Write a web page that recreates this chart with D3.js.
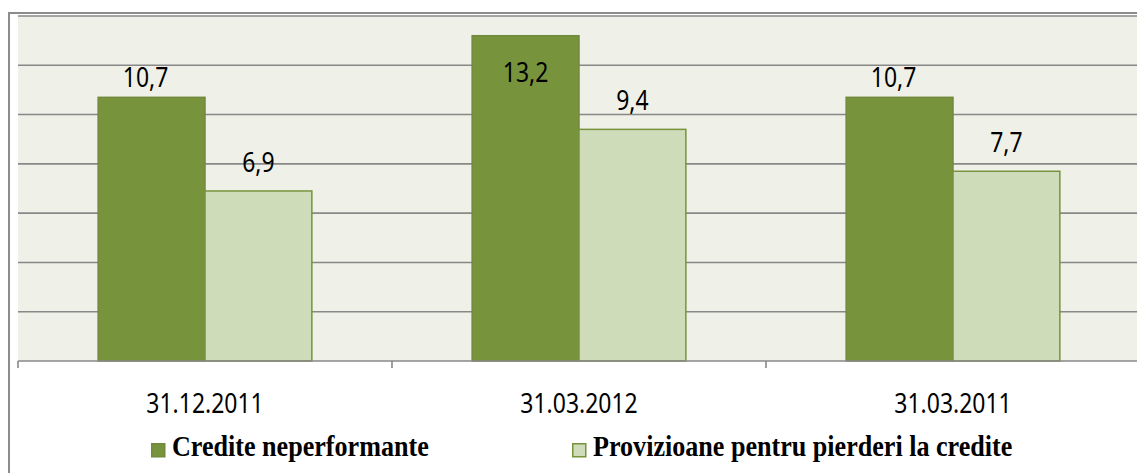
<!DOCTYPE html>
<html>
<head>
<meta charset="utf-8">
<script src="https://cdn.jsdelivr.net/npm/d3@7"></script>
<style>
  body { margin: 0; background: #fff; }
</style>
</head>
<body>
<svg id="chart" width="1137" height="473"></svg>
<script>
const categories = ["31.12.2011", "31.03.2012", "31.03.2011"];
const seriesNames = ["Credite neperformante", "Provizioane pentru pierderi la credite"];
const neperformante = [10.7, 13.2, 10.7];
const provizioane = [6.9, 9.4, 7.7];
const yTicks = [2, 4, 6, 8, 10, 12, 14];

const colors = ["#77933c", "#cfdcb9"];
const strokes = ["#718a3c", "#77933c"];

const rows = categories.map((c, i) => ({
  cat: c,
  values: [
    { s: seriesNames[0], v: neperformante[i], k: 0 },
    { s: seriesNames[1], v: provizioane[i], k: 1 }
  ]
}));

const svg = d3.select("#chart");
const plot = { left: 18, top: 16, right: 1140, bottom: 361 };

// outer frame
svg.append("rect")
  .attr("x", 9).attr("y", 13)
  .attr("width", 1150).attr("height", 480)
  .attr("fill", "#fff")
  .attr("stroke", "#8c8c8c")
  .attr("stroke-width", 2);

svg.append("rect")
  .attr("x", plot.left).attr("y", plot.top)
  .attr("width", plot.right - plot.left).attr("height", plot.bottom - plot.top)
  .attr("fill", "#eff1e9");

const x0 = d3.scaleBand()
  .domain(categories)
  .range([plot.left, plot.right])
  .padding(0);

const x1 = d3.scaleBand()
  .domain(seriesNames)
  .range([0, x0.bandwidth()])
  .paddingInner(0)
  .paddingOuter(0.75);

const y = d3.scaleLinear()
  .domain([0, 14])
  .range([plot.bottom, plot.top]);

// gridlines
svg.append("g")
  .selectAll("line")
  .data(yTicks)
  .join("line")
  .attr("x1", plot.left).attr("x2", plot.right)
  .attr("y1", d => y(d)).attr("y2", d => y(d))
  .attr("stroke", "#888")
  .attr("stroke-width", 1.6);

// bars
const groups = svg.append("g")
  .selectAll("g")
  .data(rows)
  .join("g")
  .attr("transform", d => `translate(${x0(d.cat)},0)`);

groups.selectAll("rect")
  .data(d => d.values)
  .join("rect")
  .attr("x", d => x1(d.s))
  .attr("y", d => y(d.v))
  .attr("width", x1.bandwidth())
  .attr("height", d => y(0) - y(d.v))
  .attr("fill", d => colors[d.k])
  .attr("stroke", d => strokes[d.k])
  .attr("stroke-width", 1.5);

// value labels (outside end, moved inside when it would not fit)
groups.selectAll("text")
  .data(d => d.values)
  .join("text")
  .attr("transform", d => {
    let cx = x1(d.s) + x1.bandwidth() / 2;
    let by = d.k === 0 ? y(d.v) - 10 : y(d.v) - 19;
    if (by - 20 < plot.top) {
      by = y(d.v) + 46;
    } else if (d.k === 0) {
      cx -= 6;
    }
    return `translate(${cx},${by}) scale(0.85,1)`;
  })
  .attr("text-anchor", "middle")
  .attr("font-family", "Noto Sans")
  .attr("font-size", 27)
  .attr("fill", "#000")
  .text(d => d3.format(".1f")(d.v).replace(".", ","));

// x axis
svg.append("line")
  .attr("x1", plot.left).attr("x2", plot.right)
  .attr("y1", plot.bottom).attr("y2", plot.bottom)
  .attr("stroke", "#888")
  .attr("stroke-width", 1.6);

svg.append("g")
  .selectAll("line")
  .data(categories.concat(["end"]))
  .join("line")
  .attr("x1", (d, i) => plot.left + i * x0.step())
  .attr("x2", (d, i) => plot.left + i * x0.step())
  .attr("y1", plot.bottom).attr("y2", plot.bottom + 7)
  .attr("stroke", "#888")
  .attr("stroke-width", 1.6);

svg.append("g")
  .selectAll("text")
  .data(categories)
  .join("text")
  .attr("transform", d => `translate(${x0(d) + x0.bandwidth() / 2},413) scale(0.85,1)`)
  .attr("text-anchor", "middle")
  .attr("font-family", "Noto Sans")
  .attr("font-size", 27)
  .attr("fill", "#000")
  .text(d => d);

// legend
const legendX = [151, 572];
const legend = svg.append("g")
  .selectAll("g")
  .data(seriesNames)
  .join("g")
  .attr("transform", (d, i) => `translate(${legendX[i]},443)`);

legend.append("rect")
  .attr("x", 0.75).attr("y", 0.75)
  .attr("width", 13).attr("height", 13)
  .attr("fill", (d, i) => colors[i])
  .attr("stroke", (d, i) => strokes[i])
  .attr("stroke-width", 1.5);

legend.append("text")
  .attr("transform", "translate(21,13) scale(0.87,1)")
  .attr("font-family", "Liberation Serif")
  .attr("font-weight", "bold")
  .attr("font-size", 30)
  .attr("fill", "#000")
  .text(d => d);
</script>
</body>
</html>
